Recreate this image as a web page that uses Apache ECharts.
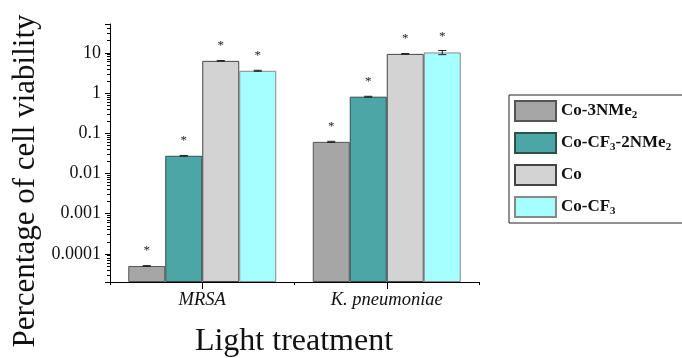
<!DOCTYPE html>
<html>
<head>
<meta charset="utf-8">
<script src="https://cdn.jsdelivr.net/npm/echarts@6/dist/echarts.min.js"></script>
<style>
html,body{margin:0;padding:0;background:#fff;}
#chart{width:682px;height:358px;}
</style>
</head>
<body>
<div id="chart"></div>
<script>
// ---- data ----
const categories = ['MRSA', 'K. pneumoniae'];
const seriesNames = ['Co-3NMe2', 'Co-CF3-2NMe2', 'Co', 'Co-CF3'];
const valCo3NMe2 = [0.00005, 0.061];
const valCoCF3_2NMe2 = [0.0275, 0.81];
const valCo = [6.3, 9.4];
const valCoCF3 = [3.57, 10.2];
const errCo3NMe2 = [0.000001, 0.002];
const errCoCF3_2NMe2 = [0.0005, 0.02];
const errCo = [0.1, 0.2];
const errCoCF3 = [0.1, 1.2];
const yTickLabels = ['0.0001', '0.001', '0.01', '0.1', '1', '10'];
const yMin = 0.00002, yMax = 52;

const values = [valCo3NMe2, valCoCF3_2NMe2, valCo, valCoCF3];
const errors = [errCo3NMe2, errCoCF3_2NMe2, errCo, errCoCF3];
const fills = ['#a6a6a6', '#4ca6a6', '#d3d3d3', '#a6ffff'];
const borders = ['#555555', '#2f4f4f', '#444444', '#888888'];
const BAR_W = 37;
const FONT = '"Liberation Serif", "Times New Roman", serif';

const chart = echarts.init(document.getElementById('chart'), null, {renderer: 'canvas'});

function richName(n) {
  let s = '{b|' + n.replace(/([A-Za-z])(\d)/g, '$1}{s|$2}{b|') + '}';
  return s.replace(/\{b\|\}/g, '');
}

const series = [];
seriesNames.forEach((name, k) => {
  series.push({
    name: name,
    type: 'bar',
    barWidth: BAR_W,
    barGap: '0%',
    data: values[k],
    itemStyle: {color: fills[k], borderColor: borders[k], borderWidth: 1},
    label: {
      show: true, position: 'top', distance: 9, formatter: '*',
      fontSize: 13, color: '#222', fontFamily: FONT
    },
    z: 2
  });
});
seriesNames.forEach((name, k) => {
  series.push({
    type: 'custom',
    name: name + ' err',
    data: categories.map((c, i) => [i, values[k][i] - errors[k][i], values[k][i] + errors[k][i]]),
    z: 5,
    silent: true,
    renderItem: function (params, api) {
      const off = (k - 1.5) * BAR_W;
      const lo = api.coord([api.value(0), api.value(1)]);
      const hi = api.coord([api.value(0), api.value(2)]);
      const x = lo[0] + off;
      const hw = 4;
      const st = {stroke: '#222', lineWidth: 1};
      return {
        type: 'group',
        children: [
          {type: 'line', shape: {x1: x, y1: lo[1], x2: x, y2: hi[1]}, style: st},
          {type: 'line', shape: {x1: x - hw, y1: lo[1], x2: x + hw, y2: lo[1]}, style: st},
          {type: 'line', shape: {x1: x - hw, y1: hi[1], x2: x + hw, y2: hi[1]}, style: st}
        ]
      };
    }
  });
});

const option = {
  animation: false,
  backgroundColor: '#fff',
  grid: {left: 110, top: 24, width: 369, height: 258, containLabel: false},
  legend: {
    data: seriesNames,
    orient: 'vertical',
    left: 509, top: 95,
    padding: [5, 40, 5, 5],
    itemWidth: 41, itemHeight: 20, itemGap: 10,
    borderColor: '#222', borderWidth: 1,
    icon: 'rect',
    formatter: richName,
    textStyle: {
      rich: {
        b: {fontSize: 17, fontWeight: 'bold', fontFamily: FONT, color: '#111', lineHeight: 20},
        s: {fontSize: 11, fontWeight: 'bold', fontFamily: FONT, color: '#111', verticalAlign: 'bottom', lineHeight: 11}
      }
    }
  },
  xAxis: [{
    type: 'category',
    data: categories,
    position: 'bottom',
    axisLine: {lineStyle: {color: '#000', width: 1}},
    axisTick: {show: true, alignWithLabel: true, length: 7, lineStyle: {color: '#000'}},
    axisLabel: {fontFamily: FONT, fontStyle: 'italic', fontSize: 18.5, color: '#111', margin: 9},
    splitLine: {show: false}
  }, {
    type: 'category',
    data: categories,
    position: 'bottom',
    axisLine: {show: false},
    axisTick: {show: true, alignWithLabel: false, length: 3, lineStyle: {color: '#000'}},
    axisLabel: {show: false},
    splitLine: {show: false}
  }],
  yAxis: {
    type: 'log',
    logBase: 10,
    min: yMin,
    max: yMax,
    startValue: yMin,
    axisLine: {show: true, lineStyle: {color: '#000', width: 1}},
    axisTick: {show: true, length: 5, lineStyle: {color: '#000'}},
    minorTick: {show: true, splitNumber: 9, length: 3, lineStyle: {color: '#000'}},
    splitLine: {show: false},
    minorSplitLine: {show: false},
    axisLabel: {
      fontFamily: FONT, fontSize: 18, color: '#111', margin: 9,
      formatter: function (v) {
        const s = String(Number(v.toPrecision(6)));
        return yTickLabels.indexOf(s) >= 0 ? s : '';
      }
    }
  },
  graphic: [{
    type: 'text',
    x: 26, y: 181,
    rotation: Math.PI / 2,
    style: {
      text: 'Percentage of cell viability',
      fontFamily: FONT, fontSize: 31, fill: '#111',
      align: 'center', verticalAlign: 'middle'
    }
  }, {
    type: 'text',
    x: 294, y: 342,
    style: {
      text: 'Light treatment',
      fontFamily: FONT, fontSize: 32, fill: '#111',
      align: 'center', verticalAlign: 'middle'
    }
  }],
  series: series
};
chart.setOption(option);
</script>
</body>
</html>
